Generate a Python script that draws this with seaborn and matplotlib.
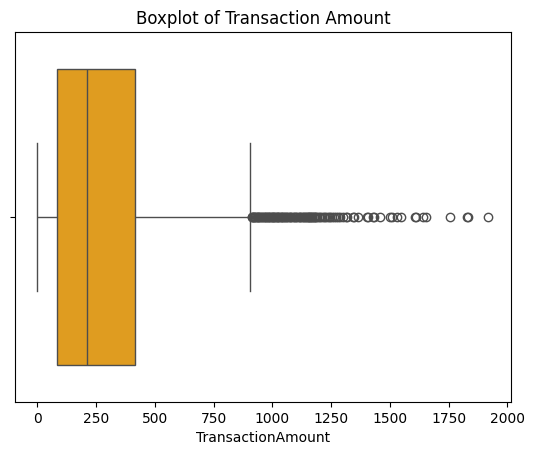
import pandas as pd
import matplotlib
matplotlib.use('Agg')
import matplotlib.pyplot as plt
import seaborn as sns

# summary values
amount_min = 0.26
amount_q1 = 81.885
amount_median = 211.14
amount_q3 = 414.53
whisker_high = 906.0

# points beyond the upper whisker
outliers = [
    914, 915, 918, 921, 924, 927, 930, 934, 937, 941, 944, 948, 952, 956,
    961, 964, 967, 971, 975, 980, 983, 986, 990, 993, 998, 1001, 1004, 1008,
    1011, 1017, 1020, 1022, 1026, 1030, 1036, 1039, 1041, 1045, 1049, 1055,
    1060, 1064, 1068, 1074, 1077, 1080, 1087, 1093, 1096, 1099, 1106, 1112,
    1116, 1119, 1126, 1131, 1135, 1138, 1145, 1148, 1150, 1154, 1157, 1160,
    1163, 1167, 1170, 1176, 1179, 1182, 1186, 1190, 1197, 1203, 1211, 1218,
    1225, 1232, 1240, 1247, 1256, 1263, 1272, 1281, 1290, 1301, 1312, 1318,
    1343, 1349, 1364, 1402, 1409, 1427, 1433, 1458, 1500, 1508, 1529,
    1549, 1606, 1611, 1641, 1655, 1754, 1829, 1832, 1919.11,
]

# build a sample whose quartiles land exactly on the read values
upper = [whisker_high] + outliers
m = len(upper)
amounts = [amount_min] + [amount_q1] * m + [amount_median] * m + [amount_q3] * m + upper
df = pd.DataFrame({'TransactionAmount': amounts})

fig, ax = plt.subplots(figsize=(6.4, 4.8))
sns.boxplot(x='TransactionAmount', data=df, color='orange', ax=ax)
ax.set_title('Boxplot of Transaction Amount')

plt.savefig('out.png', dpi=100, bbox_inches='tight')
